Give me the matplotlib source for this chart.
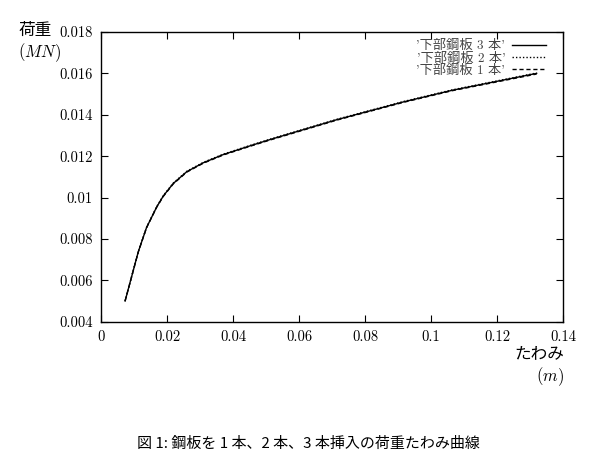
import matplotlib
matplotlib.use("Agg")
import matplotlib.pyplot as plt

plt.rcParams['font.family'] = ['cmr10', 'Noto Sans CJK JP']
plt.rcParams['mathtext.fontset'] = 'cm'
plt.rcParams['axes.formatter.use_mathtext'] = True

# deflection (m) and load (MN)
x3 = [0.0073, 0.0113, 0.0138, 0.0169, 0.0189, 0.0219, 0.0260, 0.0310, 0.0371, 0.0452,
      0.0512, 0.0714, 0.0916, 0.1063, 0.1320]
y3 = [0.00500, 0.00738, 0.00855, 0.00955, 0.01008, 0.01068, 0.01125, 0.01168, 0.01208, 0.01250,
      0.01280, 0.01376, 0.01462, 0.01518, 0.01600]
x2 = x3
y2 = [0.00500, 0.00739, 0.00856, 0.00957, 0.01010, 0.01070, 0.01127, 0.01170, 0.01210, 0.01252,
      0.01282, 0.01378, 0.01464, 0.01520, 0.01602]
x1 = x3
y1 = [0.00500, 0.00737, 0.00854, 0.00954, 0.01006, 0.01066, 0.01123, 0.01166, 0.01206, 0.01248,
      0.01278, 0.01374, 0.01460, 0.01516, 0.01597]
labels = ["'下部鋼板 3 本'", "'下部鋼板 2 本'", "'下部鋼板 1 本'"]

fig = plt.figure(figsize=(6.03, 4.62), dpi=100)
ax = fig.add_axes([0.1675, 0.3037, 0.7662, 0.627])

ax.plot(x3, y3, color='black', lw=1.0, ls='-', label=labels[0])
ax.plot(x2, y2, color='black', lw=1.0, ls=(0, (1, 1.5)), label=labels[1])
ax.plot(x1, y1, color='black', lw=1.0, ls=(0, (3, 2)), label=labels[2])

ax.set_xlim(0, 0.14)
ax.set_ylim(0.004, 0.018)
ax.set_xticks([0, 0.02, 0.04, 0.06, 0.08, 0.1, 0.12, 0.14])
ax.set_xticklabels(['0', '0.02', '0.04', '0.06', '0.08', '0.1', '0.12', '0.14'])
ax.set_yticks([0.004, 0.006, 0.008, 0.01, 0.012, 0.014, 0.016, 0.018])
ax.set_yticklabels(['0.004', '0.006', '0.008', '0.01', '0.012', '0.014', '0.016', '0.018'])
ax.tick_params(direction='in', top=True, right=True, length=5, labelsize=10.5, pad=6)
for s in ax.spines.values():
    s.set_linewidth(1.0)

leg = ax.legend(loc='upper right', frameon=False, markerfirst=False, handlelength=2.6,
                fontsize=9.5, labelspacing=0.0, borderaxespad=0.0, handletextpad=0.5,
                bbox_to_anchor=(0.975, 0.99))
for t in leg.get_texts():
    t.set_color('#444444')

fig.text(0.03, 0.935, '荷重', fontsize=12, family=['Noto Sans CJK JP'], ha='left', va='center')
fig.text(0.03, 0.885, '$(MN)$', fontsize=12, ha='left', va='center')
fig.text(0.935, 0.235, 'たわみ', fontsize=12, family=['Noto Sans CJK JP'], ha='right', va='center')
fig.text(0.935, 0.185, '$(m)$', fontsize=12, ha='right', va='center')

fig.text(0.512, 0.04, '図 1: 鋼板を 1 本、2 本、3 本挿入の荷重たわみ曲線', fontsize=10.8,
         family=['Noto Sans CJK JP'], ha='center', va='center')

fig.savefig('out.png', dpi=100)
